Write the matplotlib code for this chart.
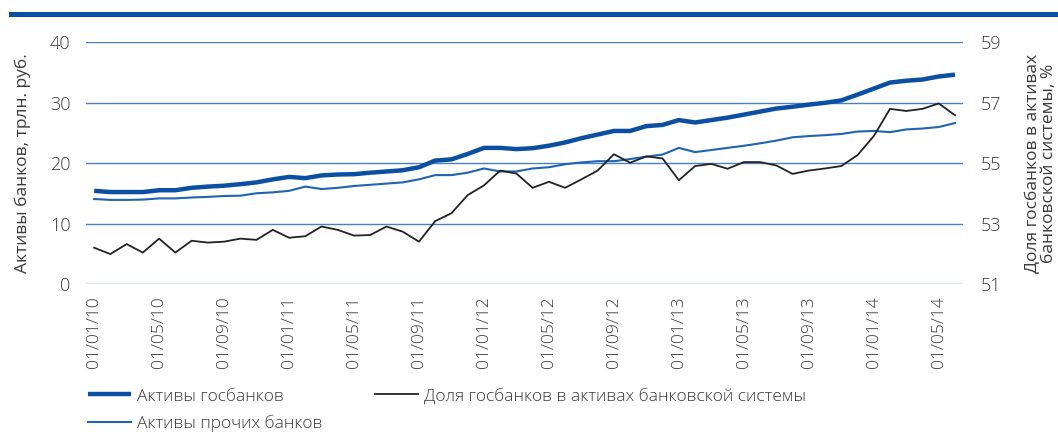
import matplotlib
matplotlib.use("Agg")
import matplotlib.pyplot as plt
from matplotlib.patches import Rectangle
import numpy as np

plt.rcParams["font.family"] = ["Open Sans", "DejaVu Sans"]
plt.rcParams["font.weight"] = "light"

# monthly, 01/01/10 .. 01/06/14
months = [f"01/{m:02d}/{y:02d}" for y in range(10, 15) for m in range(1, 13)][:54]

state_assets = [
    15.4, 15.2, 15.2, 15.2, 15.5, 15.5, 15.9, 16.1, 16.25, 16.5,
    16.8, 17.3, 17.7, 17.5, 17.95, 18.1, 18.15, 18.4, 18.6, 18.8,
    19.3, 20.4, 20.6, 21.5, 22.5, 22.5, 22.3, 22.45, 22.86, 23.4,
    24.1, 24.7, 25.3, 25.3, 26.1, 26.3, 27.1, 26.7, 27.1, 27.5,
    28.0, 28.5, 29.0, 29.3, 29.65, 29.95, 30.35, 31.3, 32.3, 33.3,
    33.6, 33.8, 34.3, 34.6,
]
other_assets = [
    14.05, 13.9, 13.9, 13.95, 14.15, 14.15, 14.3, 14.4, 14.55, 14.6,
    15.0, 15.15, 15.4, 16.1, 15.7, 15.9, 16.2, 16.4, 16.6, 16.8,
    17.3, 18.0, 18.0, 18.4, 19.1, 18.6, 18.6, 19.1, 19.3, 19.8,
    20.1, 20.3, 20.3, 20.65, 21.05, 21.4, 22.5, 21.8, 22.15, 22.5,
    22.85, 23.25, 23.7, 24.25, 24.45, 24.6, 24.8, 25.2, 25.3, 25.1,
    25.55, 25.7, 25.95, 26.6,
]
state_share = [
    52.2, 51.99, 52.32, 52.04, 52.5, 52.04, 52.43, 52.37, 52.4, 52.5,
    52.46, 52.79, 52.53, 52.58, 52.9, 52.79, 52.6, 52.62, 52.9, 52.73,
    52.4, 53.08, 53.34, 53.94, 54.26, 54.75, 54.65, 54.18, 54.38, 54.18,
    54.46, 54.75, 55.29, 55.01, 55.22, 55.15, 54.43, 54.9, 54.97, 54.81,
    55.03, 55.03, 54.92, 54.64, 54.75, 54.82, 54.9, 55.26, 55.89, 56.79,
    56.72, 56.79, 56.97, 56.58,
]

labels = ["Активы госбанков", "Активы прочих банков",
          "Доля госбанков в активах банковской системы"]

DARK = "#0b4fa3"
THIN = "#1f63b5"
GRID = "#4a80c4"
TXT = "#3a3a3a"

fig = plt.figure(figsize=(10.58, 4.34), dpi=100)
ax = fig.add_axes([0.0813, 0.3456, 0.8290, 0.5576])
ax2 = ax.twinx()

x = np.arange(len(months))
h1, = ax.plot(x, state_assets, color=DARK, lw=3.2, solid_capstyle="butt", zorder=3)
h2, = ax.plot(x, other_assets, color=THIN, lw=1.5, zorder=3)
h3, = ax2.plot(x, state_share, color="#222222", lw=1.3, zorder=3)

ax.set_xlim(-0.5, 53.5)
ax.set_ylim(0, 40)
ax.set_yticks([0, 10, 20, 30, 40])
ax2.set_ylim(51, 59)
ax2.set_yticks([51, 53, 55, 57, 59])
for v in [0, 10, 20, 30, 40]:
    ax.axhline(v, color=GRID, lw=1.0, zorder=1)

ax.set_xticks(x[::4])
ax.set_xticklabels(months[::4], rotation=90)

for a in (ax, ax2):
    for s in a.spines.values():
        s.set_visible(False)
    a.tick_params(length=0, labelsize=13, colors=TXT)
ax.tick_params(axis="y", pad=11)
ax2.tick_params(axis="y", pad=13)
ax.tick_params(axis="x", pad=9, labelsize=12.5)

ax.set_ylabel("Активы банков, трлн. руб.", fontsize=12.5, color=TXT, labelpad=14)
ax2.set_ylabel("Доля госбанков в активах\nбанковской системы, %", fontsize=12.5,
               color=TXT, labelpad=17, linespacing=0.95)

# top rule
fig.add_artist(Rectangle((0.0085, 0.9608), 0.9915, 0.0125, transform=fig.transFigure,
                         color=DARK, lw=0))

leg = fig.legend([h1, h2, h3], labels, ncol=2, loc="lower left",
                 bbox_to_anchor=(0.083, 0.004), frameon=False, fontsize=12.5,
                 handlelength=2.5, handletextpad=0.35, columnspacing=3.0,
                 labelspacing=0.6, borderpad=0, borderaxespad=0)
for t in leg.get_texts():
    t.set_color(TXT)

fig.savefig("out.png", dpi=100)
